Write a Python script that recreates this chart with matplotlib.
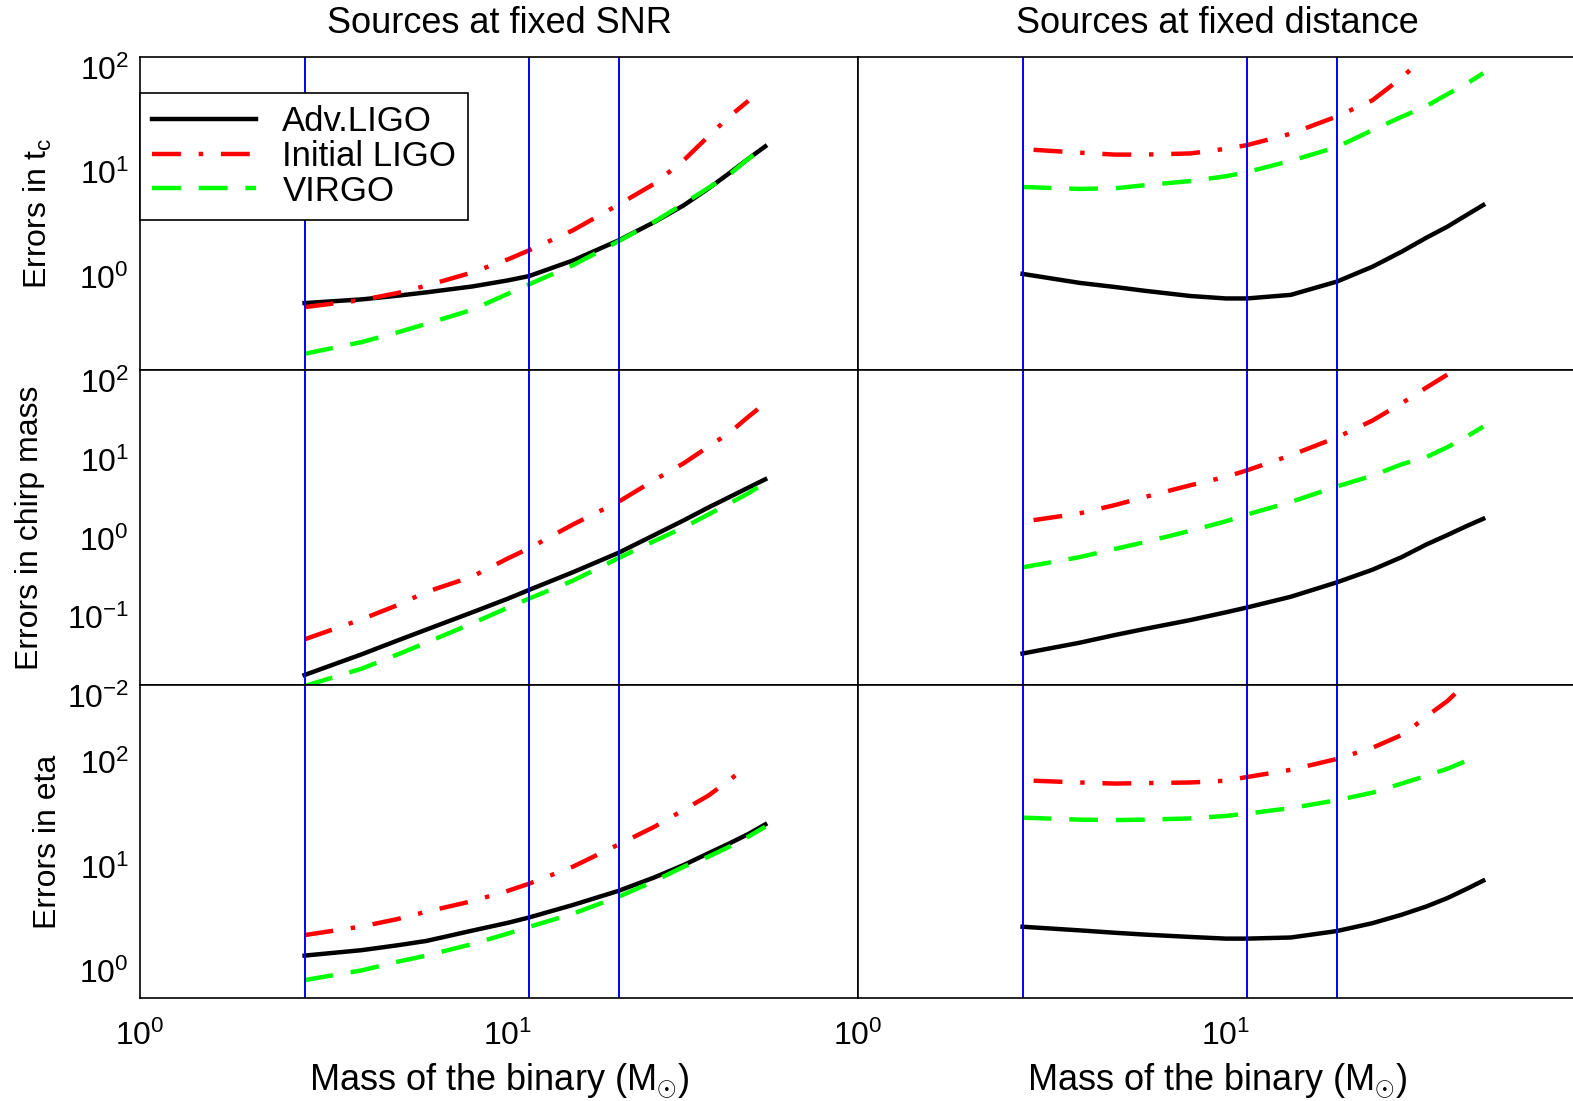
import numpy as np
import matplotlib.pyplot as plt
from matplotlib.ticker import FixedLocator, NullLocator
from matplotlib.transforms import ScaledTranslation

plt.rcParams['font.family'] = ['Liberation Sans', 'DejaVu Sans']
plt.rcParams['mathtext.fontset'] = 'custom'
plt.rcParams['mathtext.rm'] = 'Liberation Sans'
plt.rcParams['mathtext.it'] = 'Liberation Sans:italic'
plt.rcParams['mathtext.bf'] = 'Liberation Sans:bold'

nan = np.nan

# binary masses (solar masses) where the errors were computed
mass = [2.8, 4, 5, 6, 8, 10, 11.4, 15, 20, 25, 30, 35, 40, 45, 50]
# Initial LIGO curves at fixed distance use their own grid
mass_far_init = [3, 4, 5, 6, 8, 10, 11.4, 15, 20, 25, 30, 32.5, 35, 40, 45, 50]
# reference systems (NS-NS, NS-BH, BH-BH)
ref_mass = [2.8, 11.4, 20]

detectors = ["Adv.LIGO", "Initial LIGO", "VIRGO"]
row_labels = ["Errors in t$_\\mathrm{c}$", "Errors in chirp mass", "Errors in eta"]
col_titles = ["Sources at fixed SNR", "Sources at fixed distance"]
xlabel = "Mass of the binary (M$_{\\odot}$)"

# sources at fixed SNR
snr_tc_adv = [0.438, 0.475, 0.515, 0.555, 0.632, 0.723, 0.794, 1.12, 1.75, 2.62, 3.78, 5.47, 7.73, 10.6, 13.9]
snr_tc_init = [0.401, 0.468, 0.546, 0.643, 0.861, 1.15, 1.40, 2.18, 3.86, 6.11, 10.2, 17.3, 27.0, 38.0, nan]
snr_tc_virgo = [0.143, 0.185, 0.229, 0.277, 0.378, 0.538, 0.661, 1.01, 1.72, 2.64, 3.93, 5.55, 7.50, 10.6, 13.5]

snr_mc_adv = [0.0134, 0.0245, 0.0366, 0.0505, 0.0838, 0.125, 0.161, 0.270, 0.479, 0.804, 1.23, 1.79, 2.44, 3.21, 4.09]
snr_mc_init = [0.0380, 0.0682, 0.103, 0.152, 0.238, 0.406, 0.543, 1.09, 2.13, 4.01, 6.53, 10.6, 16.0, 25.5, 37.8]
snr_mc_virgo = [0.0097, 0.0161, 0.0243, 0.0345, 0.0607, 0.0960, 0.125, 0.211, 0.410, 0.675, 1.00, 1.46, 2.03, 2.72, 3.71]

snr_eta_adv = [1.10, 1.24, 1.38, 1.52, 1.91, 2.27, 2.55, 3.36, 4.60, 6.18, 8.11, 10.5, 13.1, 16.1, 19.9]
snr_eta_init = [1.73, 2.09, 2.46, 2.90, 3.66, 4.60, 5.37, 7.82, 12.8, 18.9, 27.4, 37.5, 53.0, 73.8, nan]
snr_eta_virgo = [0.641, 0.793, 0.959, 1.10, 1.42, 1.79, 2.07, 2.77, 4.04, 5.70, 7.82, 9.75, 12.2, 15.2, 18.9]

# sources at fixed distance
far_tc_adv = [0.834, 0.684, 0.624, 0.575, 0.512, 0.485, 0.485, 0.525, 0.703, 0.977, 1.36, 1.85, 2.37, 3.05, 3.81]
far_tc_init = [12.9, 12.1, 11.6, 11.6, 11.9, 13.2, 14.3, 18.4, 26.9, 38.5, 63.1, 82.0, nan, nan, nan, nan]
far_tc_virgo = [5.68, 5.44, 5.52, 5.90, 6.47, 7.19, 7.89, 10.1, 13.7, 19.9, 26.7, 33.8, 44.1, 55.2, 70.0]

far_mc_adv = [0.0251, 0.0344, 0.0432, 0.0514, 0.0668, 0.0838, 0.0964, 0.132, 0.201, 0.291, 0.420, 0.607, 0.804, 1.04, 1.29]
far_mc_init = [1.24, 1.51, 1.93, 2.43, 3.44, 4.40, 5.32, 8.26, 13.9, 22.8, 37.8, 47.5, 59.7, 87.7, 124, nan]
far_mc_virgo = [0.312, 0.420, 0.536, 0.650, 0.908, 1.20, 1.46, 2.11, 3.32, 4.55, 6.34, 7.83, 10.5, 14.2, 19.1]

far_eta_adv = [2.08, 1.92, 1.82, 1.75, 1.66, 1.60, 1.60, 1.64, 1.89, 2.25, 2.71, 3.25, 3.92, 4.78, 5.75]
far_eta_init = [52.2, 50.2, 49.0, 49.5, 50.2, 52.2, 56.6, 66.4, 84.3, 108, 143, 175, 215, 304, 451, nan]
far_eta_virgo = [23.1, 22.1, 21.9, 22.1, 22.7, 24.0, 25.3, 28.5, 33.9, 40.1, 49.0, 58.1, 68.1, 80.9, nan]

panels = {
    (0, 0): [(mass, snr_tc_adv), (mass, snr_tc_init), (mass, snr_tc_virgo)],
    (1, 0): [(mass, snr_mc_adv), (mass, snr_mc_init), (mass, snr_mc_virgo)],
    (2, 0): [(mass, snr_eta_adv), (mass, snr_eta_init), (mass, snr_eta_virgo)],
    (0, 1): [(mass, far_tc_adv), (mass_far_init, far_tc_init), (mass, far_tc_virgo)],
    (1, 1): [(mass, far_mc_adv), (mass_far_init, far_mc_init), (mass, far_mc_virgo)],
    (2, 1): [(mass, far_eta_adv), (mass_far_init, far_eta_init), (mass, far_eta_virgo)],
}

styles = [dict(color='black', lw=3.2, ls='-'),
          dict(color='red', lw=3.2, dashes=(6.5, 4, 1, 4)),
          dict(color='#00ff00', lw=3.2, dashes=(6.5, 4))]

fig = plt.figure(figsize=(15.73, 11.01), dpi=100)
W, H = 1573.0, 1101.0
left_px = [140, 858]
width_px = 718
top_px = [57, 370, 685]
height_px = [313, 315, 313]

xlim = (1, 10 ** (width_px / 368))
ylims = [(0.1, 100), (0.01, 100), (10 ** -0.365, 10 ** 2.635)]
yticks = [[1, 10, 100], [0.01, 0.1, 1, 10, 100], [1, 10, 100]]
label_x = [-0.142, -0.153, -0.128]

shift = ScaledTranslation(0, -0.11, fig.dpi_scale_trans)

for r in range(3):
    for c in range(2):
        ax = fig.add_axes([left_px[c] / W, 1 - (top_px[r] + height_px[r]) / H,
                           width_px / W, height_px[r] / H])
        ax.set_xscale('log')
        ax.set_yscale('log')
        for (xs, ys), st, name in zip(panels[(r, c)], styles, detectors):
            ax.plot(xs, ys, label=name, **st)
        for m in ref_mass:
            ax.axvline(m, color='blue', lw=1.4)
        ax.set_xlim(xlim)
        ax.set_ylim(ylims[r])
        ax.xaxis.set_major_locator(FixedLocator([1, 10]))
        ax.xaxis.set_minor_locator(NullLocator())
        ax.yaxis.set_major_locator(FixedLocator(yticks[r]))
        ax.yaxis.set_minor_locator(NullLocator())
        ax.tick_params(length=0, labelsize=23)
        ax.tick_params(axis='x', pad=16)
        ax.tick_params(axis='y', pad=8)
        for sp in ax.spines.values():
            sp.set_linewidth(1.2)

        if r < 2:
            ax.tick_params(labelbottom=False)
        else:
            ax.set_xlabel(xlabel, fontsize=26, va='top')
            ax.xaxis.set_label_coords(0.5, -0.2)

        if c == 1:
            ax.tick_params(labelleft=False)
        else:
            ax.set_ylabel(row_labels[r], fontsize=23, va='center')
            ax.yaxis.set_label_coords(label_x[r], 0.5)
            # nudge the y tick labels down like in the original figure
            for lab in ax.get_yticklabels():
                lab.set_transform(lab.get_transform() + shift)

        if r == 0:
            ax.set_title(col_titles[c], fontsize=26, pad=17)

        if r == 0 and c == 0:
            leg = ax.legend(loc='upper left', bbox_to_anchor=(0, 0.885), borderaxespad=0,
                            fontsize=25, handlelength=3.0, handletextpad=0.75,
                            borderpad=0.35, labelspacing=0.05, fancybox=False,
                            framealpha=1, edgecolor='black')
            leg.get_frame().set_linewidth(1.2)

fig.savefig('out.png', dpi=100)
